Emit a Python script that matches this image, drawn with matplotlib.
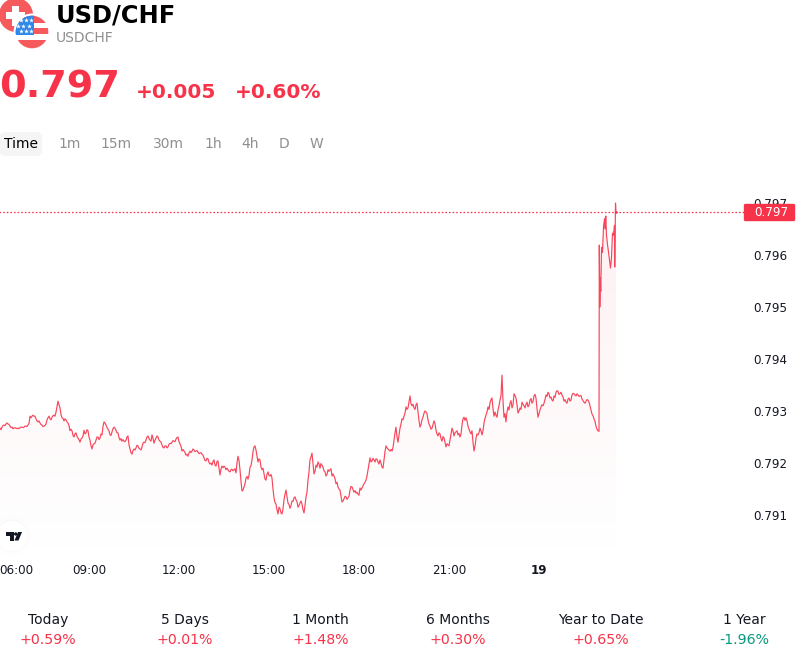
import numpy as np
import matplotlib
matplotlib.use("Agg")
import matplotlib.pyplot as plt
from matplotlib.patches import Circle, Rectangle, FancyBboxPatch, Polygon

# USD/CHF quotes in units of 0.00001, taken every two minutes from 06:02.
# The *_on lists hold the samples at 06:02, 06:06, ... and the *_off lists
# the samples in between.
morning_on = [
    79267, 79269, 79273, 79275, 79275, 79271, 79269, 79267, 79267, 79267,
    79268, 79269, 79269, 79271, 79273, 79290, 79290, 79290, 79285, 79279,
    79277, 79273, 79271, 79275, 79287, 79285, 79288, 79292, 79298, 79319,
    79306, 79287, 79281, 79283, 79277, 79262, 79262, 79250, 79258, 79248,
    79240, 79248, 79263, 79258, 79262, 79244, 79227, 79237, 79244, 79250,
    79248, 79254, 79279, 79273, 79265, 79254, 79260, 79269, 79263, 79258,
    79244, 79242, 79242, 79244, 79252, 79227, 79217, 79227, 79229, 79233,
    79227, 79231, 79240, 79244, 79252, 79244, 79254, 79238, 79248, 79250,
    79242, 79235, 79229, 79233, 79231, 79238, 79240, 79242, 79246, 79250,
    79237, 79223, 79223, 79215, 79213, 79223, 79223, 79225, 79223, 79221,
    79219, 79217, 79210, 79204, 79208, 79198, 79196, 79206, 79194, 79204,
    79177, 79194, 79194, 79187, 79187, 79183, 79188, 79187, 79181, 79213,
    79187, 79146, 79154, 79171, 79169, 79192, 79206, 79231, 79225, 79202,
    79206, 79187, 79179, 79167, 79183, 79175, 79171, 79133, 79121, 79102,
    79112, 79102, 79129, 79148, 79123, 79113, 79127, 79133, 79129, 79115,
]
morning_off = [
    79264, 79272, 79272, 79277, 79274, 79268, 79266, 79268, 79266, 79266,
    79269, 79268, 79271, 79270, 79276, 79287, 79292, 79290, 79281, 79281,
    79274, 79270, 79272, 79283, 79290, 79283, 79291, 79290, 79308, 79312,
    79293, 79286, 79285, 79279, 79272, 79265, 79253, 79256, 79251, 79245,
    79246, 79252, 79256, 79264, 79250, 79233, 79235, 79238, 79250, 79245,
    79256, 79270, 79277, 79268, 79262, 79253, 79266, 79267, 79258, 79249,
    79247, 79245, 79241, 79250, 79235, 79220, 79224, 79225, 79234, 79228,
    79225, 79238, 79239, 79250, 79247, 79242, 79248, 79244, 79252, 79244,
    79240, 79230, 79233, 79229, 79236, 79237, 79243, 79241, 79249, 79241,
    79232, 79226, 79220, 79217, 79219, 79220, 79227, 79222, 79224, 79218,
    79220, 79215, 79205, 79209, 79201, 79200, 79203, 79196, 79203, 79190,
    79188, 79191, 79192, 79190, 79184, 79187, 79185, 79189, 79200, 79205,
    79165, 79148, 79160, 79174, 79176, 79195, 79222, 79233, 79214, 79208,
    79192, 79190, 79169, 79178, 79176, 79178, 79150, 79124, 79110, 79115,
    79104, 79112, 79140, 79135, 79120, 79118, 79126, 79135, 79126, 79118,
]
evening_on = [
    79123, 79121, 79104, 79135, 79167, 79206, 79219, 79179, 79196, 79202,
    79190, 79196, 79185, 79175, 79187, 79187, 79175, 79175, 79160, 79154,
    79148, 79125, 79131, 79135, 79133, 79148, 79154, 79144, 79142, 79140,
    79152, 79152, 79160, 79167, 79187, 79210, 79204, 79206, 79208, 79202,
    79206, 79192, 79206, 79233, 79227, 79223, 79223, 79244, 79269, 79240,
    79267, 79285, 79290, 79308, 79306, 79329, 79310, 79306, 79312, 79298,
    79269, 79283, 79296, 79298, 79283, 79271, 79267, 79281, 79263, 79252,
    79256, 79242, 79248, 79231, 79235, 79244, 79267, 79252, 79260, 79254,
    79250, 79273, 79288, 79287, 79271, 79260, 79262, 79223, 79248, 79254,
    79267, 79254, 79277, 79292, 79308, 79316, 79325, 79290, 79292, 79302,
    79321, 79369, 79288, 79279, 79308, 79315, 79306, 79333, 79325, 79296,
    79306, 79317, 79310, 79313, 79308, 79321, 79315, 79329, 79325, 79288,
    79302, 79312, 79315, 79331, 79336, 79325, 79321, 79329, 79336, 79338,
    79333, 79331, 79319, 79317, 79323, 79319, 79331, 79333, 79329, 79331,
    79329, 79323, 79317, 79319, 79321, 79310, 79294, 79285, 79271, 79262,
]
evening_off = [
    79127, 79110, 79118, 79144, 79183, 79212, 79200, 79184, 79192, 79198,
    79199, 79192, 79183, 79178, 79184, 79189, 79179, 79170, 79163, 79150,
    79137, 79127, 79136, 79130, 79136, 79155, 79149, 79147, 79144, 79138,
    79148, 79156, 79163, 79175, 79200, 79202, 79209, 79202, 79207, 79198,
    79200, 79190, 79222, 79229, 79225, 79226, 79230, 79258, 79250, 79254,
    79275, 79283, 79296, 79303, 79318, 79314, 79313, 79303, 79315, 79282,
    79274, 79288, 79300, 79295, 79275, 79265, 79274, 79276, 79256, 79258,
    79247, 79251, 79240, 79237, 79233, 79255, 79262, 79258, 79262, 79257,
    79256, 79285, 79282, 79281, 79265, 79256, 79240, 79232, 79256, 79258,
    79262, 79262, 79286, 79298, 79303, 79322, 79305, 79298, 79288, 79310,
    79330, 79320, 79295, 79298, 79302, 79320, 79312, 79330, 79312, 79300,
    79303, 79313, 79306, 79317, 79311, 79324, 79318, 79332, 79305, 79295,
    79308, 79310, 79322, 79328, 79333, 79327, 79319, 79326, 79339, 79332,
    79336, 79327, 79322, 79315, 79325, 79321, 79334, 79331, 79333, 79328,
    79330, 79320, 79315, 79322, 79317, 79302, 79291, 79280, 79265, 79261,
]
# The jump into the new session, at irregular minutes after 06:00
jump_minutes = [1200.6, 1201.6, 1202.6, 1203.5, 1205, 1206, 1207, 1209, 1211, 1212.5,
                1213.5, 1215, 1217, 1219, 1221, 1223, 1225, 1227, 1229, 1231,
                1231.5, 1233, 1234]
jump_prices = [79619, 79500, 79556, 79530, 79612, 79615, 79605, 79654, 79670, 79650,
               79675, 79638, 79620, 79606, 79590, 79575, 79595, 79642, 79638, 79657,
               79577, 79700, 79683]

y_ticks = [0.791, 0.792, 0.793, 0.794, 0.795, 0.796, 0.797]
x_tick_minutes = [0, 180, 360, 540, 720, 900, 1080]
x_tick_labels = ["06:00", "09:00", "12:00", "15:00", "18:00", "21:00", "19"]

periods = ["Today", "5 Days", "1 Month", "6 Months", "Year to Date", "1 Year"]
changes = ["+0.59%", "+0.01%", "+1.48%", "+0.30%", "+0.65%", "-1.96%"]
intervals = ["Time", "1m", "15m", "30m", "1h", "4h", "D", "W"]

RED = "#f7334a"
GREEN = "#089981"
GREY = "#8f8f8f"
W, H = 800, 660

plt.rcParams["font.family"] = "DejaVu Sans"
fig = plt.figure(figsize=(W / 100, H / 100), dpi=100, facecolor="white")

on_samples = np.array(morning_on + evening_on)
off_samples = np.array(morning_off + evening_off)
regular = np.empty(on_samples.size * 2)
regular[0::2] = on_samples
regular[1::2] = off_samples
minutes = np.concatenate([np.arange(1, regular.size + 1) * 2, jump_minutes])
prices = np.concatenate([regular, jump_prices]) / 1e5
last_price = prices[-1]

# Price chart: 30 px per hour, 52 px per 0.001
left_px, right_px, top_px, bottom_px = -1, 744, 190, 556
ax = fig.add_axes([left_px / W, 1 - bottom_px / H, (right_px - left_px) / W, (bottom_px - top_px) / H])
x_limits = (0, (right_px - left_px) * 2)
y_limits = (0.791 - (bottom_px - 515) / 52000, 0.791 + (515 - top_px) / 52000)
for s in ax.spines.values():
    s.set_visible(False)
ax.patch.set_alpha(0)

# Area under the line fades to white towards the base of the chart
fill_floor = 0.791 - (546 - 515) / 52000
strength = np.linspace(0.075, 0.0, 512)[:, None, None]
grad = 1 - strength * (1 - np.array(matplotlib.colors.to_rgb(RED)))
grad = np.repeat(grad, 2, axis=1)
img = ax.imshow(grad, extent=(minutes[0], minutes[-1], fill_floor, 0.7970),
                aspect="auto", origin="upper", zorder=1, interpolation="bilinear")
verts = np.column_stack([
    np.r_[minutes[0], minutes, minutes[-1]],
    np.r_[fill_floor, prices, fill_floor],
])
clip = Polygon(verts, closed=True, transform=ax.transData, fill=False, edgecolor="none")
ax.add_patch(clip)
img.set_clip_path(clip)
ax.set_xlim(*x_limits)
ax.set_ylim(*y_limits)

ax.plot(minutes, prices, color=RED, lw=0.85, alpha=0.9, solid_joinstyle="round", zorder=3)
ax.plot(minutes[-1], last_price, "o", color=RED, ms=1.8, mew=0, zorder=4)
ax.axhline(last_price, color=RED, lw=0.9, ls=(0, (1.3, 1.6)), zorder=2)

ax.yaxis.tick_right()
ax.set_yticks(y_ticks, [f"{v:.3f}" for v in y_ticks])
ax.set_xticks(x_tick_minutes, x_tick_labels)
ax.tick_params(axis="both", length=0, labelsize=8.6, labelcolor="#131722")
ax.tick_params(axis="y", pad=6.6)
ax.tick_params(axis="x", pad=5.6)
x_labels = ax.get_xticklabels()
x_labels[0].set_ha("left")
x_labels[-1].set_fontweight("bold")

# Overlay in pixel space for the header, badges and footer
ov = fig.add_axes([0, 0, 1, 1], zorder=5)
ov.set_xlim(0, W)
ov.set_ylim(H, 0)
ov.axis("off")
ov.patch.set_alpha(0)

# Swiss flag roundel
FLAG_RED = "#f65a5c"
ov.add_patch(Circle((16, 15), 17, fc=FLAG_RED, ec="none", zorder=2))
ov.add_patch(Rectangle((12, 5.5), 7, 20, fc="white", ec="none", zorder=3))
ov.add_patch(Rectangle((6, 11.5), 19, 7, fc="white", ec="none", zorder=3))

# US flag roundel
ov.add_patch(Circle((32, 32), 18.5, fc="white", ec="none", zorder=4))
clip_us = Circle((32, 32), 16.3, transform=ov.transData)
stripe_edges = [14, 23, 28, 34, 40, 50]
stripe_colors = [FLAG_RED, "white", FLAG_RED, "white", FLAG_RED]
for y0, y1, c in zip(stripe_edges[:-1], stripe_edges[1:], stripe_colors):
    r = Rectangle((14, y0), 36, y1 - y0, fc=c, ec="none", zorder=5)
    ov.add_patch(r)
    r.set_clip_path(clip_us)
canton = Rectangle((14, 14), 19.5, 20.5, fc="#2f87e8", ec="none", zorder=6)
ov.add_patch(canton)
canton.set_clip_path(clip_us)
star_x = [20.5, 25.5, 31, 18, 23, 28.5, 20.5, 25.5, 31]
star_y = [20, 20, 20, 25.5, 25.5, 25.5, 31, 31, 31]
ov.scatter(star_x, star_y, s=13, marker="*", color="white", linewidths=0, zorder=7)

# Header text
ov.text(56, 15.5, "USD/CHF", fontsize=17.4, fontweight="bold", color="black", va="center", ha="left")
ov.text(56, 38.5, "USDCHF", fontsize=10, color=GREY, va="center", ha="left")
ov.text(-1, 87, "0.797", fontsize=27.5, fontweight="bold", color=RED, va="center", ha="left")
ov.text(136, 92.5, "+0.005", fontsize=14.5, fontweight="bold", color=RED, va="center", ha="left")
ov.text(234.5, 92.5, "+0.60%", fontsize=14.5, fontweight="bold", color=RED, va="center", ha="left")

# Interval selector
ov.add_patch(FancyBboxPatch((2, 134), 38, 20, boxstyle="round,pad=0,rounding_size=3",
                            fc="#f5f5f5", ec="#f5f5f5", lw=3, zorder=1))
interval_x = [21, 69.5, 116.5, 168, 213, 250, 284.5, 316.5]
for name, x in zip(intervals, interval_x):
    ov.text(x, 144.5, name, fontsize=10, ha="center", va="center", zorder=3,
            color="black" if name == "Time" else GREY)

# Current price badge
ov.add_patch(FancyBboxPatch((744.5, 204.5), 50, 16, boxstyle="round,pad=0,rounding_size=1",
                            fc=RED, ec=RED, lw=1, zorder=3))
ov.text(771, 212.5, "0.797", fontsize=8.6, color="white", ha="center", va="center", zorder=4)

# TradingView mark on a soft white disc
for off, a in [(5, 0.004), (3, 0.005), (1.5, 0.006)]:
    ov.add_patch(Circle((12, 536), 15 + off, fc="black", ec="none", alpha=a, zorder=2))
ov.add_patch(Circle((12, 536), 15, fc="white", ec="none", zorder=3))
ov.add_patch(Polygon([(6, 532), (13.5, 532), (13.5, 540.5), (9.5, 540.5), (9.5, 536), (6, 536)],
                     fc="#131722", ec="none", zorder=4))
ov.add_patch(Circle((15.7, 534), 1.7, fc="#131722", ec="none", zorder=4))
ov.add_patch(Polygon([(18, 532), (22, 532), (18.5, 540.5), (14.5, 540.5)], fc="#131722", ec="none", zorder=4))

# Performance footer
footer_x = [48, 185, 320.5, 457.5, 600.5, 744]
for x, label, change in zip(footer_x, periods, changes):
    ov.text(x, 620, label, fontsize=10, color="#131722", ha="center", va="center")
    ov.text(x, 640, change, fontsize=10.2, color=GREEN if change.startswith("-") else RED,
            ha="center", va="center")

fig.savefig("out.png", dpi=100, facecolor="white")
